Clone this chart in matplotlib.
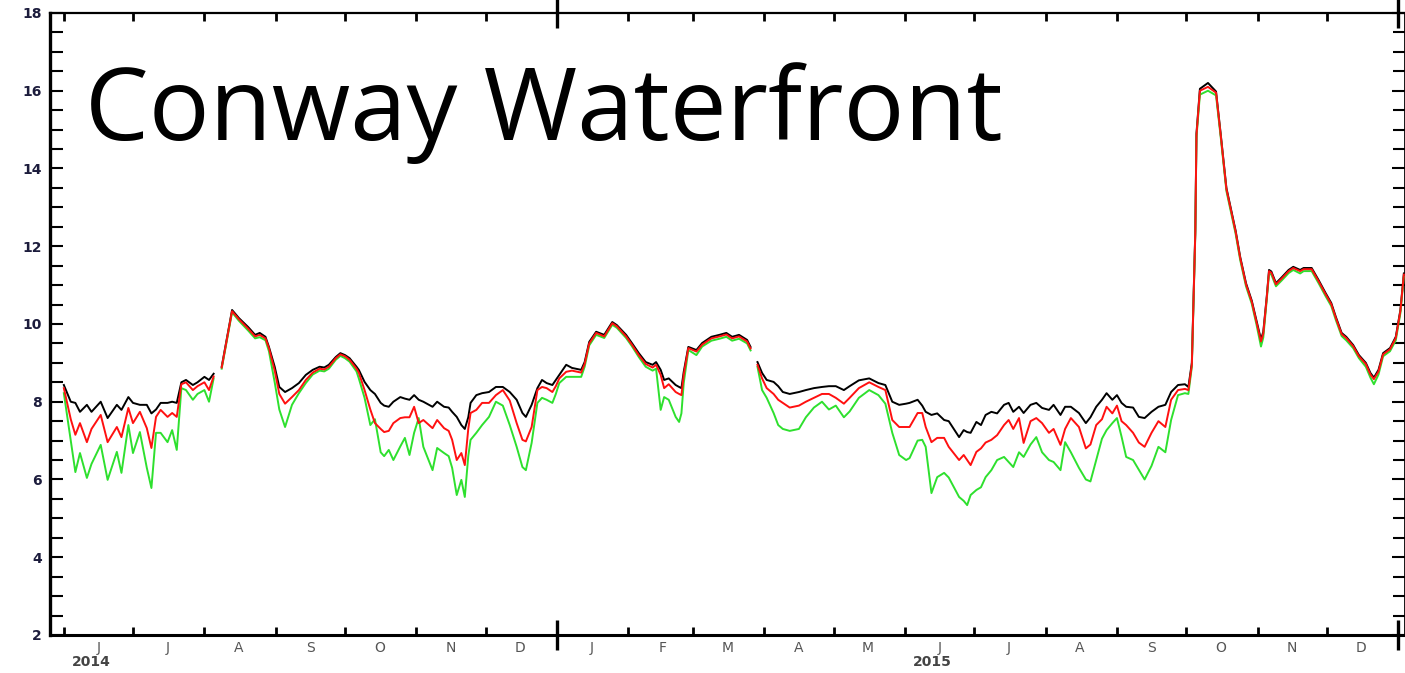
"""Daily water level, Conway Waterfront, June 2014 - December 2015."""
import datetime as dt

import numpy as np
import matplotlib
matplotlib.use('Agg')
import matplotlib.pyplot as plt
import matplotlib.dates as mdates
from matplotlib.ticker import MultipleLocator, FuncFormatter

nan = np.nan
START = dt.datetime(2014, 6, 1)

# days after 1 June 2014; nan marks a break in the record
day = [0, 3, 5, 7, 10, 12, 16, 19, 23, 25,
       28, 30, 33, 36, 38, 40, 42, 45, 47, 49,
       51, 53, 56, 58, 61, 63, 65, 66.5,
       68.5, 73, 76, 80, 83, 85, 87.5, 89, 91.5, 93.5,
       96, 99, 102, 105, 108, 111, 113, 115, 118, 120,
       122, 124, 127, 128, 130.5, 133, 135, 137.5, 139, 141,
       143, 146, 148, 150, 152, 154, 156, 160, 162, 165,
       167, 168.5, 170.5, 172.5, 174, 175.5, 176.5, 179, 181.5, 184.5,
       187.5, 190.5, 193.5, 196.5, 199, 200.5, 203, 205.5, 207.5, 209.5,
       212, 213.5, 215, 218, 220.5, 224.5, 226, 228, 231, 234.5,
       238, 240, 244, 246.5, 249.5, 252.5, 255.5, 257, 259, 260.5,
       262.5, 265.5, 267, 268, 269, 271, 274.5, 277, 281, 284.5,
       287.5, 290, 293, 296.5, 298, 299.5,
       301, 303, 305, 308, 310, 312, 315, 319, 322, 325.5,
       329, 332, 335, 338.5, 341, 345, 349.5, 353.5, 356.5, 359.5,
       362.5, 365.5, 367, 370.5, 372.5, 374, 376.5, 379, 382, 384,
       388.5, 390.5, 392, 393.5, 396, 398, 400, 402.5, 405, 408,
       410, 412, 414.5, 416.5, 419.5, 422, 424.5, 427.5, 429.5, 432.5,
       434.5, 437, 440.5, 443.5, 445.5, 448, 450.5, 452.5, 455, 457,
       459, 461, 464, 466.5, 469, 472, 475, 478, 480.5, 483.5,
       486.5, 488, 489.5, 491, 491.5, 493, 496.5, 500, 502, 504.5,
       508.5, 510.5, 513, 515.5, 517.5, 519.5, 520.5, 522, 523, 524,
       526, 528.5, 531.5, 533.5, 536.5, 538, 541.5, 544.5, 547.5, 550,
       552, 554.5, 556.5, 559.5, 562, 565, 567, 568.5, 570.5, 572.5,
       575.5, 578, 580, 581.5]

black = [8.43, 8.0, 7.97, 7.74, 7.92, 7.74, 8.0, 7.58, 7.92, 7.79,
         8.12, 7.97, 7.92, 7.92, 7.7, 7.8, 7.97, 7.97, 8.0, 7.97,
         8.5, 8.56, 8.43, 8.5, 8.64, 8.56, 8.72, nan,
         8.9, 10.36, 10.15, 9.92, 9.72, 9.77, 9.67, 9.41, 8.9, 8.38,
         8.25, 8.35, 8.48, 8.69, 8.82, 8.9, 8.88, 8.95, 9.15, 9.25,
         9.2, 9.12, 8.9, 8.82, 8.51, 8.3, 8.2, 7.97, 7.9, 7.87,
         8.0, 8.12, 8.08, 8.05, 8.17, 8.05, 8.0, 7.87, 8.0, 7.87,
         7.85, 7.74, 7.61, 7.4, 7.3, 7.6, 7.97, 8.17, 8.22, 8.25,
         8.38, 8.38, 8.25, 8.05, 7.71, 7.61, 7.92, 8.35, 8.56, 8.48,
         8.43, 8.56, 8.69, 8.95, 8.87, 8.82, 9.02, 9.54, 9.8, 9.72,
         10.05, 9.97, 9.72, 9.51, 9.25, 9.02, 8.95, 9.02, 8.82, 8.56,
         8.6, 8.43, 8.38, 8.35, 8.77, 9.41, 9.33, 9.51, 9.67, 9.72,
         9.77, 9.67, 9.72, 9.59, 9.41, nan,
         9.02, 8.74, 8.56, 8.51, 8.4, 8.25, 8.2, 8.25, 8.3, 8.35,
         8.38, 8.4, 8.4, 8.3, 8.4, 8.55, 8.6, 8.48, 8.43, 8.0,
         7.92, 7.95, 7.97, 8.05, 7.9, 7.74, 7.66, 7.7, 7.53, 7.5,
         7.09, 7.27, 7.22, 7.2, 7.48, 7.4, 7.66, 7.74, 7.7, 7.92,
         7.97, 7.74, 7.87, 7.71, 7.92, 7.97, 7.84, 7.79, 7.92, 7.66,
         7.87, 7.87, 7.71, 7.45, 7.6, 7.87, 8.05, 8.22, 8.05, 8.17,
         7.97, 7.87, 7.85, 7.61, 7.58, 7.74, 7.87, 7.92, 8.25, 8.43,
         8.45, 8.38, 9.0, 12.4, 14.9, 16.05, 16.2, 15.98, 14.9, 13.5,
         12.4, 11.72, 11.05, 10.6, 10.1, 9.6, 9.8, 10.7, 11.39, 11.35,
         11.05, 11.2, 11.39, 11.47, 11.39, 11.44, 11.44, 11.13, 10.8, 10.54,
         10.18, 9.77, 9.67, 9.46, 9.2, 9.0, 8.74, 8.62, 8.82, 9.25,
         9.38, 9.67, 10.36, 11.3]

red = [8.35, 7.55, 7.15, 7.45, 6.96, 7.3, 7.66, 6.96, 7.35, 7.09,
       7.84, 7.45, 7.74, 7.32, 6.81, 7.61, 7.79, 7.61, 7.71, 7.61,
       8.45, 8.5, 8.3, 8.4, 8.5, 8.3, 8.65, nan,
       8.88, 10.33, 10.12, 9.88, 9.68, 9.72, 9.63, 9.38, 8.8, 8.2,
       7.95, 8.12, 8.3, 8.56, 8.75, 8.85, 8.83, 8.9, 9.12, 9.22,
       9.17, 9.08, 8.85, 8.75, 8.3, 7.8, 7.45, 7.3, 7.22, 7.25,
       7.45, 7.58, 7.6, 7.6, 7.87, 7.45, 7.53, 7.32, 7.53, 7.32,
       7.25, 7.02, 6.5, 6.68, 6.37, 7.3, 7.71, 7.79, 7.97, 7.97,
       8.17, 8.3, 8.03, 7.45, 7.02, 6.98, 7.35, 8.3, 8.38, 8.35,
       8.25, 8.4, 8.6, 8.77, 8.8, 8.75, 8.97, 9.5, 9.77, 9.68,
       10.02, 9.94, 9.68, 9.47, 9.2, 8.97, 8.88, 8.95, 8.69, 8.35,
       8.45, 8.25, 8.2, 8.17, 8.69, 9.38, 9.29, 9.47, 9.63, 9.68,
       9.73, 9.63, 9.68, 9.55, 9.37, nan,
       8.95, 8.6, 8.35, 8.2, 8.05, 7.97, 7.85, 7.9, 8.0, 8.1,
       8.2, 8.2, 8.1, 7.95, 8.1, 8.35, 8.5, 8.38, 8.3, 7.53,
       7.35, 7.35, 7.35, 7.71, 7.71, 7.35, 6.96, 7.07, 7.07, 6.84,
       6.5, 6.63, 6.5, 6.37, 6.71, 6.8, 6.95, 7.02, 7.14, 7.4,
       7.53, 7.3, 7.58, 6.94, 7.5, 7.58, 7.45, 7.2, 7.3, 6.89,
       7.3, 7.58, 7.35, 6.8, 6.9, 7.4, 7.55, 7.87, 7.7, 7.9,
       7.5, 7.4, 7.2, 6.95, 6.84, 7.2, 7.5, 7.35, 8.05, 8.3,
       8.33, 8.3, 8.95, 12.35, 14.85, 16.0, 16.1, 15.95, 14.87, 13.47,
       12.37, 11.69, 11.02, 10.57, 10.06, 9.55, 9.75, 10.67, 11.36, 11.32,
       11.02, 11.17, 11.36, 11.44, 11.36, 11.41, 11.41, 11.1, 10.77, 10.51,
       10.15, 9.74, 9.64, 9.43, 9.17, 8.97, 8.7, 8.58, 8.78, 9.22,
       9.35, 9.64, 10.33, 11.27]

green = [8.22, 7.0, 6.19, 6.68, 6.04, 6.4, 6.89, 5.99, 6.71, 6.17,
         7.4, 6.68, 7.22, 6.3, 5.78, 7.2, 7.2, 6.96, 7.27, 6.76,
         8.35, 8.3, 8.05, 8.2, 8.3, 8.0, 8.6, nan,
         8.85, 10.3, 10.08, 9.83, 9.63, 9.66, 9.58, 9.3, 8.5, 7.8,
         7.35, 7.92, 8.22, 8.48, 8.7, 8.8, 8.78, 8.85, 9.08, 9.18,
         9.12, 9.03, 8.78, 8.6, 8.1, 7.4, 7.55, 6.7, 6.6, 6.76,
         6.5, 6.85, 7.07, 6.63, 7.2, 7.58, 6.84, 6.24, 6.81, 6.68,
         6.6, 6.3, 5.6, 5.99, 5.55, 6.6, 7.02, 7.2, 7.4, 7.61,
         8.0, 7.9, 7.4, 6.84, 6.32, 6.24, 6.94, 7.97, 8.1, 8.05,
         7.97, 8.2, 8.48, 8.64, 8.64, 8.64, 8.9, 9.45, 9.72, 9.64,
         9.98, 9.9, 9.64, 9.43, 9.15, 8.9, 8.8, 8.85, 7.79, 8.12,
         8.05, 7.61, 7.48, 7.7, 8.48, 9.33, 9.2, 9.42, 9.57, 9.62,
         9.67, 9.57, 9.62, 9.5, 9.32, nan,
         8.9, 8.3, 8.1, 7.71, 7.4, 7.3, 7.25, 7.3, 7.6, 7.85,
         8.0, 7.8, 7.9, 7.6, 7.75, 8.1, 8.3, 8.17, 7.95, 7.2,
         6.63, 6.5, 6.55, 7.0, 7.02, 6.84, 5.65, 6.06, 6.17, 6.05,
         5.55, 5.45, 5.34, 5.6, 5.73, 5.8, 6.06, 6.24, 6.5, 6.58,
         6.45, 6.32, 6.7, 6.58, 6.9, 7.09, 6.7, 6.5, 6.45, 6.24,
         6.96, 6.7, 6.3, 6.0, 5.95, 6.5, 7.05, 7.27, 7.45, 7.58,
         7.1, 6.58, 6.5, 6.25, 6.0, 6.35, 6.84, 6.7, 7.53, 8.17,
         8.22, 8.2, 8.9, 12.3, 14.8, 15.9, 16.0, 15.88, 14.82, 13.42,
         12.32, 11.64, 10.97, 10.52, 10.0, 9.42, 9.65, 10.62, 11.3, 11.27,
         10.97, 11.12, 11.31, 11.39, 11.3, 11.36, 11.36, 11.05, 10.72, 10.46,
         10.1, 9.69, 9.58, 9.38, 9.12, 8.9, 8.62, 8.45, 8.7, 9.17,
         9.3, 9.58, 10.28, 11.22]

year_labels = ['2014', '2015']


def plot():
    x = mdates.date2num(START) + np.array(day)

    fig = plt.figure(figsize=(14.05, 6.73), dpi=100)
    ax = fig.add_axes([0.0356, 0.0565, 0.9644, 0.9242])

    ax.plot(x, black, color='black', lw=1.4, zorder=3)
    ax.plot(x, green, color='#2ee02e', lw=1.4, zorder=4)
    ax.plot(x, red, color='#ff1010', lw=1.4, zorder=5)

    ax.set_ylim(2, 18)
    ax.set_xlim(mdates.date2num(START) - 6, mdates.date2num(START) + 582)

    ax.text(0.026, 0.796, 'Conway Waterfront', transform=ax.transAxes,
            fontsize=73, family='Open Sans', va='baseline', ha='left')

    # y axis: labelled every 2, minor ticks every 0.5, all pointing inward
    ax.yaxis.set_major_locator(MultipleLocator(2))
    ax.yaxis.set_minor_locator(MultipleLocator(0.5))
    ax.tick_params(axis='y', which='both', direction='in', right=True,
                   width=1.5, pad=6, labelsize=10, labelcolor='#1c1c3c')
    ax.tick_params(axis='y', which='major', left=True, length=9.5)
    ax.tick_params(axis='y', which='minor', length=9)
    for lab in ax.get_yticklabels():
        lab.set_fontweight('bold')

    # x axis: ticks at month starts, letters centred mid-month
    ax.xaxis.set_major_locator(mdates.MonthLocator())
    ax.xaxis.set_major_formatter(FuncFormatter(lambda v, p: ''))
    ax.xaxis.set_minor_locator(mdates.MonthLocator(bymonthday=16))
    ax.xaxis.set_minor_formatter(FuncFormatter(
        lambda v, p: mdates.num2date(v).strftime('%b')[0]))
    ax.tick_params(axis='x', which='major', direction='in', top=True,
                   length=6, width=2)
    ax.tick_params(axis='x', which='minor', length=0, pad=4,
                   labelsize=10, labelcolor='#555555')

    # longer ticks across the axis at the turn of each year
    locs = ax.xaxis.get_majorticklocs()
    for tick, loc in zip(ax.xaxis.get_major_ticks(len(locs)), locs):
        d = mdates.num2date(loc)
        if d.month == 1:
            for line in (tick.tick1line, tick.tick2line):
                line.set_marker('|')
                line.set_markersize(21)
                line.set_markeredgewidth(2.4)

    for i, year in enumerate(year_labels):
        xpos = mdates.date2num(dt.datetime(2014 + i, 6, 4, 12))
        ax.text(xpos, -0.043, year, transform=ax.get_xaxis_transform(),
                ha='left', va='center', fontsize=10, fontweight='bold',
                color='#444444')

    ax.spines['left'].set_linewidth(2.4)
    ax.spines['bottom'].set_linewidth(2.2)
    ax.spines['top'].set_linewidth(1.6)
    ax.spines['right'].set_linewidth(2.0)

    fig.savefig('out.png', dpi=100)


if __name__ == '__main__':
    plot()
